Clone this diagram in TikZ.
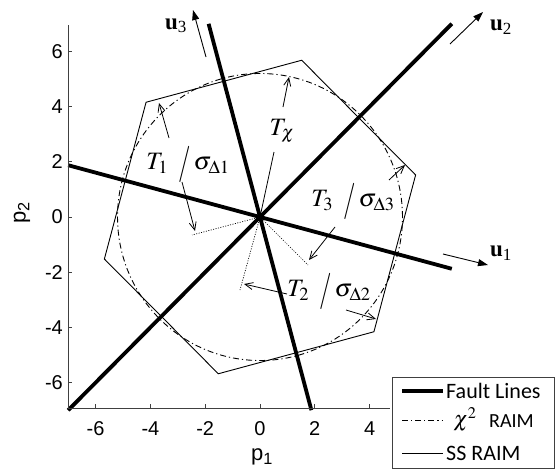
\documentclass[tikz,border=0pt]{standalone}
\usepackage{mathptmx}
\usepackage[no-math]{fontspec}
\setmainfont{Liberation Serif}
\newfontfamily\arialf{Liberation Sans}
\newfontfamily\calibf{Carlito}
\usetikzlibrary{arrows.meta}
\definecolor{axgray}{gray}{0.25}
\newcommand{\slsh}{\raisebox{-0.18em}{\scalebox{1}[1.45]{$/$}}}
\tikzset{
  fault/.style={line width=3.8pt},
  hexa/.style={line width=0.9pt},
  chi/.style={line width=0.9pt, dash pattern=on 6pt off 3pt on 1.2pt off 3pt},
  proj/.style={line width=0.7pt, dash pattern=on 1pt off 1.5pt},
  meas/.style={line width=0.8pt, -{Straight Barb[length=8pt,width=7pt]}},
  uarrow/.style={line width=0.9pt, -{Triangle[length=10pt,width=7pt]}},
  axisline/.style={line width=1pt, draw=axgray},
  ticklab/.style={font=\arialf\fontsize{20}{22}\selectfont, inner sep=0pt},
  tlab/.style={font=\fontsize{25}{28}\selectfont, inner sep=0pt},
  ulab/.style={font=\fontsize{23}{25}\selectfont, inner sep=0pt},
  leg/.style={font=\calibf\fontsize{22}{24}\selectfont, inner sep=0pt, anchor=west},
}
\begin{document}
\begin{tikzpicture}[x=1pt,y=-1pt]
\useasboundingbox (0,0) rectangle (556,471);
% geometry in data units
\begin{scope}[shift={(260,217)}, x=27.4pt, y=27.6pt]
  \coordinate (O) at (0,0);
  \draw[chi] (O) circle[x radius=5.2, y radius=5.2];
  \draw[hexa] (15:5.88) -- (75:5.88) -- (135:5.88) -- (195:5.88) -- (255:5.88) -- (315:5.88) -- cycle;
\end{scope}
% projection (dotted) lines
\coordinate (d1) at (192,235);
\coordinate (d2) at (240,290);
\coordinate (d3) at (308,265);
\draw[proj] (O) -- (d1);
\draw[proj] (O) -- (d2);
\draw[proj] (O) -- (d3);
% fault lines
\begin{scope}[shift={(260,217)}, x=27.4pt, y=27.6pt]
  \coordinate (f1a) at (-7,1.876); \coordinate (f1b) at (7,-1.876);
  \coordinate (f2a) at (-7,-7);    \coordinate (f2b) at (7,7);
  \coordinate (f3a) at (-1.876,7); \coordinate (f3b) at (1.876,-7);
  \draw[fault] (f1a) -- (f1b);
  \draw[fault] (f2a) -- (f2b);
  \draw[fault] (f3a) -- (f3b);
\end{scope}
% axes
\draw[axisline] (68,25) -- (68,408) -- (390,408);
\foreach \v in {-6,-4,...,6} {
  \draw[axisline] (68,{217-27.6*\v}) -- (72,{217-27.6*\v});
  \node[ticklab, anchor=east] at (63,{217-27.6*\v}) {\v};
}
\foreach \v in {-6,-4,...,4} {
  \draw[axisline] ({260+27.4*\v},408) -- ({260+27.4*\v},404);
  \node[ticklab] at ({260+27.4*\v},429) {\v};
}
\node[ticklab, font=\arialf\fontsize{22}{24}\selectfont, rotate=90] (p2) at (22,213) {p\textsubscript{2}};
\node[ticklab, font=\arialf\fontsize{22}{24}\selectfont] (p1) at (262,457) {p\textsubscript{1}};
% direction arrows
\coordinate (u1s) at (443,254); \coordinate (u1e) at (488,265);
\coordinate (u2s) at (450,44);  \coordinate (u2e) at (483,12);
\coordinate (u3s) at (206,57);  \coordinate (u3e) at (193,10);
\draw[uarrow] (u1s) -- (u1e);
\draw[uarrow] (u2s) -- (u2e);
\draw[uarrow] (u3s) -- (u3e);
\node[ulab] (u1) at (501,253) {\textbf{u}\textsubscript{1}};
\node[ulab] (u2) at (501,27) {\textbf{u}\textsubscript{2}};
\node[ulab] (u3) at (176,26) {\textbf{u}\textsubscript{3}};
% labels
\node[tlab] (Tchi) at (282,131) {$T_\chi$};
\node[tlab] (T1) at (188,165) {$T_1$\hspace{0.4em}\slsh\hspace{0.12em}$\sigma_{\Delta 1}$};
\node[tlab] (T3) at (353,202) {$T_3$\hspace{0.4em}\slsh\hspace{0.12em}$\sigma_{\Delta 3}$};
\node[tlab] (T2) at (329,292) {$T_2$\hspace{0.4em}\slsh\hspace{0.12em}$\sigma_{\Delta 2}$};
% measurement arrows
\coordinate (tcs) at (274,152);
\coordinate (tca) at (283,107); \coordinate (tcb) at (289,77);
\draw[line width=0.8pt] (tcs) -- (O);
\draw[meas] (tca) -- (tcb);
\coordinate (a1s) at (169,138); \coordinate (a1e) at (159,103);
\coordinate (b1s) at (182,182); \coordinate (b1e) at (195,231);
\draw[meas] (a1s) -- (a1e);
\draw[meas] (b1s) -- (b1e);
\coordinate (a3s) at (389,180); \coordinate (a3e) at (405,165);
\coordinate (b3s) at (335,227); \coordinate (b3e) at (309,260);
\draw[meas] (a3s) -- (a3e);
\draw[meas] (b3s) -- (b3e);
\coordinate (a2s) at (346,310); \coordinate (a2e) at (376,319);
\coordinate (b2s) at (287,294); \coordinate (b2e) at (244,284);
\draw[meas] (a2s) -- (a2e);
\draw[meas] (b2s) -- (b2e);
% legend
\node[draw=axgray, fill=white, line width=0.9pt, minimum width=162pt, minimum height=91pt, inner sep=0pt] (legend) at (473,422.5) {};
\coordinate (l1a) at (402,391); \coordinate (l1b) at (443,391);
\coordinate (l2a) at (402,420); \coordinate (l2b) at (443,420);
\coordinate (l3a) at (402,453); \coordinate (l3b) at (443,453);
\draw[fault] (l1a) -- (l1b);
\draw[chi] (l2a) -- (l2b);
\draw[hexa] (l3a) -- (l3b);
\node[leg] (lt1) at (446,391) {Fault Lines};
\node[font=\fontsize{22}{24}\selectfont, inner sep=0pt] (lchi) at (465,420) {$\chi^2$};
\node[leg, font=\calibf\fontsize{20}{22}\selectfont] (lt2) at (489,421) {RAIM};
\node[leg] (lt3) at (446,453) {SS RAIM};
\end{tikzpicture}
\end{document}
